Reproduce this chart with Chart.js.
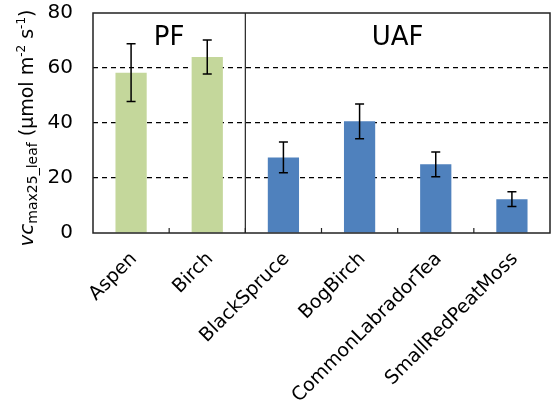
<!DOCTYPE html>
<html>
<head>
<meta charset="utf-8">
<script src="https://cdn.jsdelivr.net/npm/chart.js@4"></script>
<style>
  body { margin: 0; background: #fff; }
  #wrap { width: 552px; height: 410px; }
</style>
</head>
<body>
<div id="wrap"><canvas id="vcChart" width="552" height="410"></canvas></div>
<script>
const species = ["Aspen", "Birch", "BlackSpruce", "BogBirch", "CommonLabradorTea", "SmallRedPeatMoss"];
const vcmax = [58.3, 64.0, 27.5, 40.6, 25.0, 12.3];
const vcErr = [10.5, 6.2, 5.6, 6.3, 4.5, 2.7];
const site = ["PF", "PF", "UAF", "UAF", "UAF", "UAF"];
const siteColors = { PF: "#c4d79b", UAF: "#4f81bd" };
const yTicks = [0, 20, 40, 60, 80];

const fontName = "'DejaVu Sans', Verdana, sans-serif";

// error bars, frame, group divider and labels
const extras = {
    id: "extras",
    afterDatasetsDraw(chart) {
        const ctx = chart.ctx;
        const area = chart.chartArea;
        const x = chart.scales.x;
        const y = chart.scales.y;
        const meta = chart.getDatasetMeta(0);

        ctx.save();
        ctx.strokeStyle = "#000";
        ctx.lineWidth = 1.5;
        meta.data.forEach((bar, i) => {
            const top = y.getPixelForValue(vcmax[i] + vcErr[i]);
            const bot = y.getPixelForValue(vcmax[i] - vcErr[i]);
            ctx.beginPath();
            ctx.moveTo(bar.x, top);
            ctx.lineTo(bar.x, bot);
            ctx.moveTo(bar.x - 4.5, top);
            ctx.lineTo(bar.x + 4.5, top);
            ctx.moveTo(bar.x - 4.5, bot);
            ctx.lineTo(bar.x + 4.5, bot);
            ctx.stroke();
        });

        // frame
        ctx.lineWidth = 1.5;
        ctx.strokeStyle = "#222";
        ctx.strokeRect(area.left, area.top, area.right - area.left, area.bottom - area.top);

        // small ticks between categories
        const step = (area.right - area.left) / species.length;
        ctx.lineWidth = 1.2;
        for (let k = 1; k < species.length; k++) {
            const px = area.left + step * k;
            ctx.beginPath();
            ctx.moveTo(px, area.bottom);
            ctx.lineTo(px, area.bottom - 5);
            ctx.stroke();
        }

        // divider between PF and UAF
        const splitIdx = site.indexOf("UAF");
        const sx = area.left + step * splitIdx;
        ctx.beginPath();
        ctx.moveTo(sx, area.top);
        ctx.lineTo(sx, area.bottom);
        ctx.stroke();

        // group labels
        ctx.fillStyle = "#000";
        ctx.font = "26px " + fontName;
        ctx.textAlign = "center";
        ctx.textBaseline = "middle";
        ctx.fillText("PF", (x.getPixelForValue(0) + x.getPixelForValue(1)) / 2, area.top + 25);
        ctx.fillText("UAF", (x.getPixelForValue(2) + x.getPixelForValue(5)) / 2, area.top + 25);

        // y axis title with italic / sub / superscript parts
        const parts = [
            { t: "vc", f: "italic 20px " + fontName, dy: 0 },
            { t: "max25_leaf", f: "14px " + fontName, dy: 4 },
            { t: " (\u03bcmol m", f: "19px " + fontName, dy: 0 },
            { t: "-2", f: "12px " + fontName, dy: -8 },
            { t: " s", f: "19px " + fontName, dy: 0 },
            { t: "-1", f: "12px " + fontName, dy: -8 },
            { t: ")", f: "19px " + fontName, dy: 0 }
        ];
        let total = 0;
        parts.forEach(p => { ctx.font = p.f; p.w = ctx.measureText(p.t).width; total += p.w; });
        ctx.translate(33, (area.top + area.bottom) / 2 + 5);
        ctx.rotate(-Math.PI / 2);
        ctx.textAlign = "left";
        ctx.textBaseline = "alphabetic";
        let cx = -total / 2;
        parts.forEach(p => {
            ctx.font = p.f;
            ctx.fillText(p.t, cx, p.dy);
            cx += p.w;
        });
        ctx.restore();
    }
};

const ctx = document.getElementById("vcChart").getContext("2d");
const chart = new Chart(ctx, {
    type: "bar",
    data: {
        labels: species,
        datasets: [{
            label: "vcmax25_leaf",
            data: vcmax,
            backgroundColor: site.map(s => siteColors[s]),
            borderWidth: 0,
            barPercentage: 0.41,
            categoryPercentage: 1.0
        }]
    },
    options: {
        responsive: false,
        animation: false,
        layout: { padding: { top: 13, right: 2, left: 0, bottom: 0 } },
        plugins: {
            legend: { display: false },
            tooltip: { enabled: false }
        },
        scales: {
            x: {
                grid: { display: false, drawTicks: false },
                border: { display: false },
                ticks: {
                    color: "#000",
                    font: { family: fontName, size: 19 },
                    minRotation: 45,
                    maxRotation: 45,
                    padding: 15,
                    labelOffset: 3
                },
                afterFit(scale) { scale.height = 177; }
            },
            y: {
                min: 0,
                max: 80,
                afterBuildTicks(scale) { scale.ticks = yTicks.map(v => ({ value: v })); },
                grid: {
                    color: ctx => (ctx.tick && ctx.tick.value > 0 && ctx.tick.value < 80) ? "#000" : "rgba(0,0,0,0)",
                    lineWidth: 1.2,
                    drawTicks: false
                },
                border: { display: false, dash: [5, 4] },
                ticks: {
                    color: "#000",
                    font: { family: fontName, size: 20 },
                    padding: 20
                },
                afterFit(scale) { scale.width = 93; scale.paddingTop = 0; scale.paddingBottom = 0; }
            }
        }
    },
    plugins: [extras]
});
</script>
</body>
</html>
